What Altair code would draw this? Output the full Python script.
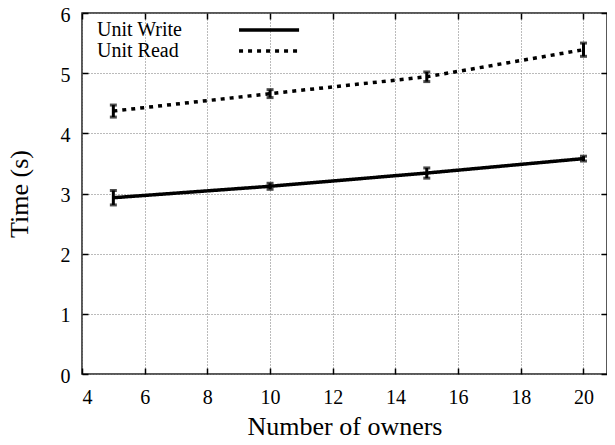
import altair as alt
import pandas as pd

owners = [5, 10, 15, 20]
series = ["Unit Write", "Unit Read"]
write_mean = [2.93, 3.12, 3.34, 3.58]
write_err = [0.12, 0.05, 0.085, 0.04]
read_mean = [4.37, 4.66, 4.94, 5.39]
read_err = [0.10, 0.066, 0.08, 0.11]
x_ticks = [4, 6, 8, 10, 12, 14, 16, 18, 20]
y_ticks = [0, 1, 2, 3, 4, 5, 6]

rows = []
for name, means, errs in [(series[0], write_mean, write_err), (series[1], read_mean, read_err)]:
    for o, m, e in zip(owners, means, errs):
        rows.append({"owners": o, "series": name, "mean": m, "lo": m - e, "hi": m + e})
df = pd.DataFrame(rows)

FONT = "Liberation Serif"
x_scale = alt.Scale(domain=[4, 20.75], nice=False, zero=False)
y_scale = alt.Scale(domain=[0, 6], nice=False, zero=False)

base = alt.Chart(df)

lines = base.mark_line(strokeWidth=3.5, color="black", strokeCap="butt").encode(
    x=alt.X("owners:Q", scale=x_scale, title="Number of owners",
            axis=alt.Axis(orient="bottom", offset=-6, values=x_ticks, tickSize=6, tickWidth=1.5,
                          tickColor="black", domain=False, grid=True, gridDash=[1, 2],
                          gridColor="#777", gridWidth=1, labelFont=FONT, labelFontSize=20,
                          labelColor="black", labelPadding=13, titleFont=FONT, titleFontSize=26,
                          titleFontWeight="normal", titleColor="black", titlePadding=6)),
    y=alt.Y("mean:Q", scale=y_scale, title="Time (s)",
            axis=alt.Axis(orient="left", offset=-6, values=y_ticks, tickSize=6, tickWidth=1.5,
                          tickColor="black", domain=False, grid=True, gridDash=[1, 2],
                          gridColor="#777", gridWidth=1, labelFont=FONT, labelFontSize=20,
                          labelColor="black", labelPadding=12, labelOffset=2,
                          titleFont=FONT, titleFontSize=26,
                          titleFontWeight="normal", titleColor="black", titlePadding=28)),
    strokeDash=alt.StrokeDash(
        "series:N",
        scale=alt.Scale(domain=series, range=[[1, 0], [4, 5]]),
        legend=alt.Legend(title=None, orient="none", legendX=-11, legendY=6,
                          symbolType="M17.45,0H24.12", symbolSize=324, symbolStrokeWidth=3.5,
                          symbolStrokeColor="black", symbolFillColor="transparent",
                          labelFont=FONT, labelFontSize=20, labelColor="black",
                          labelOffset=4, labelAlign="left", rowPadding=0, padding=0),
    ),
)

errs = base.mark_rule(strokeWidth=3, color="black").encode(
    x=alt.X("owners:Q", scale=x_scale, title=None,
            axis=alt.Axis(orient="top", offset=-6, values=x_ticks, tickSize=6, tickWidth=1.5,
                          tickColor="black", labels=False, domain=False, grid=False)),
    y=alt.Y("lo:Q", scale=y_scale, title=None,
            axis=alt.Axis(orient="right", offset=-6, values=y_ticks, tickSize=6, tickWidth=1.5,
                          tickColor="black", labels=False, domain=False, grid=False)),
    y2="hi:Q",
)

caps_lo = base.mark_tick(orient="horizontal", size=7, thickness=3, color="black").encode(
    x=alt.X("owners:Q", scale=x_scale, axis=None),
    y=alt.Y("lo:Q", scale=y_scale, axis=None),
)
caps_hi = base.mark_tick(orient="horizontal", size=7, thickness=3, color="black").encode(
    x=alt.X("owners:Q", scale=x_scale, axis=None),
    y=alt.Y("hi:Q", scale=y_scale, axis=None),
)

chart = (
    alt.layer(lines, errs, caps_lo, caps_hi)
    .resolve_axis(x="independent", y="independent")
    .properties(width=525, height=361, autosize=alt.AutoSizeParams(type="none"),
                padding={"left": 74, "top": 5, "right": 0, "bottom": 62}, background="white")
    .configure_view(stroke="#222", strokeWidth=1.5)
)

chart.save("out.html", embed_options={"renderer": "svg", "actions": False})
